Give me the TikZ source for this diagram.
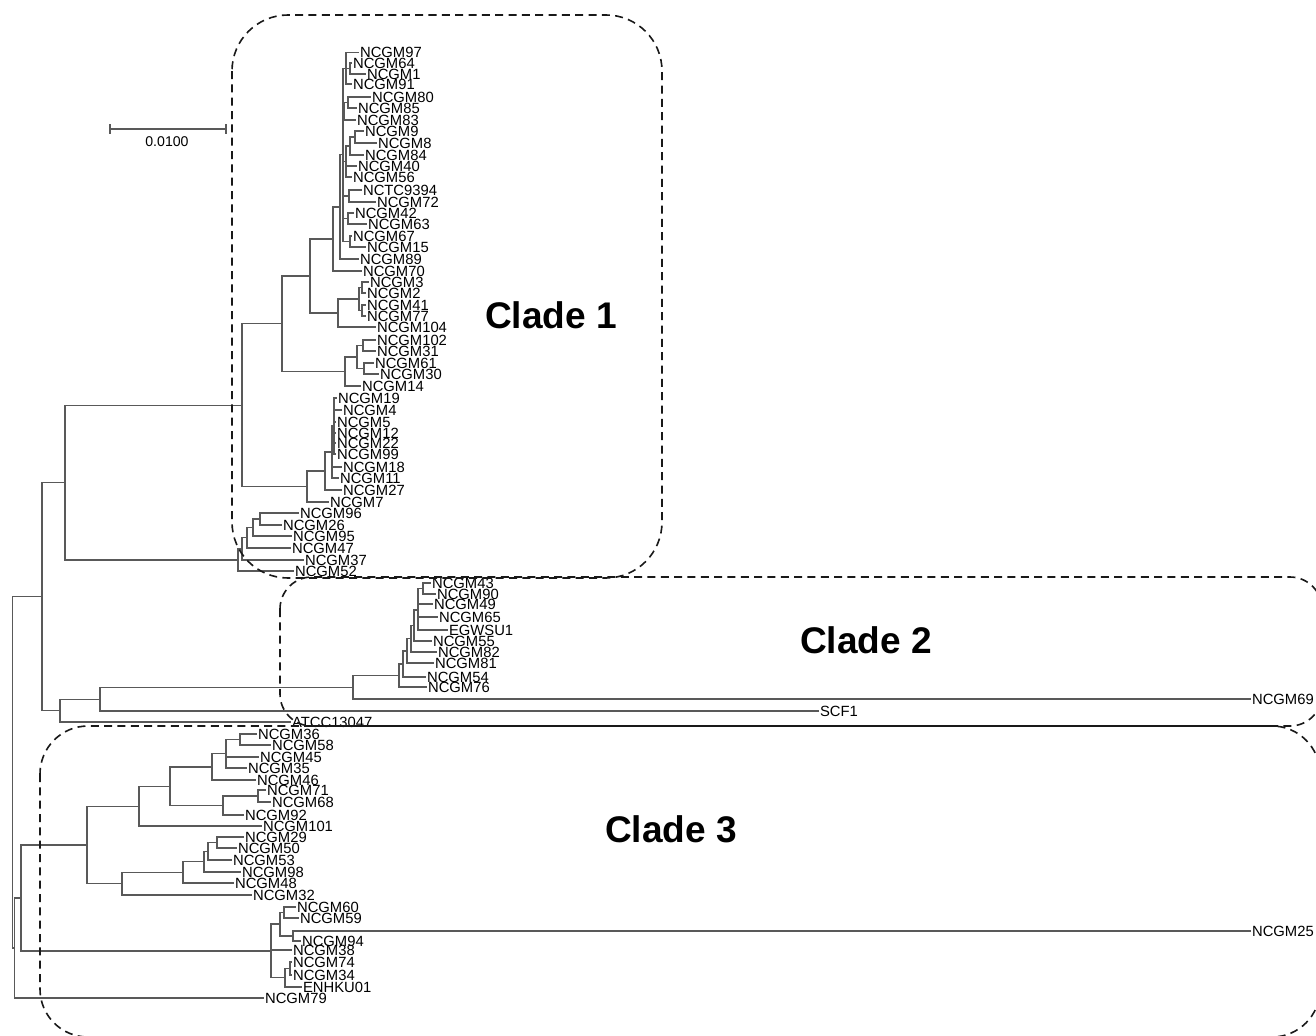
\documentclass[tikz,border=0pt]{standalone}
\usepackage{fontspec}
\setmainfont{Liberation Sans}
\newcommand\lf[3]{\node[lab] (#1) at (#2,#3) {#1};}
\newcommand\nd[3]{\coordinate (#1) at (#2,#3);}
\newcommand\kids[2]{\foreach \c in {#2}{\draw[br] (#1) |- (\c);}}
\begin{document}
\begin{tikzpicture}[x=0.75pt,y=-0.75pt,
  br/.style={draw=black!65,line width=0.9pt},
  lab/.style={anchor=west,inner xsep=0.8pt,inner ysep=0.5pt,outer sep=0pt,text=black,font=\fontsize{11.1pt}{11.5pt}\selectfont},
  cladebox/.style={draw=black!90,line width=1.2pt,dash pattern=on 6pt off 4pt},
  cladelab/.style={font=\fontsize{27.8pt}{28pt}\selectfont\bfseries,text=black,inner sep=0pt}]
\useasboundingbox (0,0) rectangle (1316,1035);
\clip (0,0) rectangle (1316,1035);

% ---------- internal nodes ----------
\nd{R}{12.5}{772.3}
\nd{U}{42}{596.5}
\nd{L}{14.5}{948}
\nd{M}{21}{898}
\nd{V}{65}{482.5}
\nd{W}{60}{710.6}
\nd{X}{100}{699.1}
\nd{Y}{353}{687.3}
\nd{C2}{399}{675.5}
\nd{C2a}{403}{664}
\nd{C2b}{407}{651}
\nd{C2c}{411}{638.8}
\nd{C2d}{414}{625.5}
\nd{C2e}{418}{610}
\nd{C2f}{423}{588.5}
\nd{G}{238}{559.9}
\nd{G1}{242}{548.9}
\nd{G2}{247}{537.8}
\nd{G3}{253}{527.5}
\nd{G4}{260}{519}
\nd{C1}{242}{405.1}
\nd{C1a}{282}{323.8}
\nd{C1b}{307}{486.5}
\nd{C1c}{325}{471}
\nd{C1d}{332}{452}
\nd{C1e}{334}{426}
\nd{C1f}{310}{276}
\nd{C1g}{345}{371.5}
\nd{C1h}{357}{357}
\nd{C1i}{363}{345.5}
\nd{C1j}{364}{368.5}
\nd{C1k}{333}{239}
\nd{C1l}{338}{313}
\nd{C1m}{359}{299}
\nd{C1p}{362}{287.5}
\nd{C1q}{362}{310.5}
\nd{C1n}{340}{206.9}
\nd{C1o}{343}{154.8}
\nd{T1}{346}{68.4}
\nd{T1a}{350}{68.5}
\nd{T2}{344}{111.3}
\nd{T2a}{348}{102.5}
\nd{T3}{346}{161.5}
\nd{T3a}{350}{146}
\nd{T3b}{355}{137}
\nd{T4}{349}{196}
\nd{T5}{348}{218.5}
\nd{T6}{350}{241.5}
\nd{C3a}{87}{844.9}
\nd{P}{139}{806.1}
\nd{P1}{170}{786.2}
\nd{P2}{212}{766.9}
\nd{P4}{226}{753.8}
\nd{P5}{240}{739.5}
\nd{P3}{223}{805.5}
\nd{P7}{258}{796}
\nd{Q}{122}{883.7}
\nd{Q1}{183}{872.4}
\nd{Q2}{204}{861.8}
\nd{Q4}{208}{851.5}
\nd{Q3}{217}{842.5}
\nd{C3b}{271}{951}
\nd{C3d}{280}{924}
\nd{C3c}{284}{912.5}
\nd{C3e}{293}{936}
\nd{C3f}{285}{977.8}
\nd{C3g}{290}{968.5}

% ---------- leaves ----------
\lf{NCGM97}{359}{52.7}
\lf{NCGM64}{352}{63}
\lf{NCGM1}{366}{74}
\lf{NCGM91}{352}{84}
\lf{NCGM80}{371}{97}
\lf{NCGM85}{357}{108}
\lf{NCGM83}{356}{120}
\lf{NCGM9}{364}{131}
\lf{NCGM8}{377}{143}
\lf{NCGM84}{364}{155}
\lf{NCGM40}{357}{166}
\lf{NCGM56}{352}{177}
\lf{NCTC9394}{362}{190}
\lf{NCGM72}{376}{202}
\lf{NCGM42}{354}{213}
\lf{NCGM63}{367}{224}
\lf{NCGM67}{352}{236}
\lf{NCGM15}{366}{247}
\lf{NCGM89}{359}{259}
\lf{NCGM70}{362}{271}
\lf{NCGM3}{369}{282}
\lf{NCGM2}{366}{293}
\lf{NCGM41}{366}{305}
\lf{NCGM77}{366}{316}
\lf{NCGM104}{376}{327}
\lf{NCGM102}{376}{340}
\lf{NCGM31}{376}{351}
\lf{NCGM61}{374}{363}
\lf{NCGM30}{379}{374}
\lf{NCGM14}{361}{386}
\lf{NCGM19}{337}{398}
\lf{NCGM4}{342}{410}
\lf{NCGM5}{336}{422}
\lf{NCGM12}{336}{433}
\lf{NCGM22}{336}{443}
\lf{NCGM99}{336}{454}
\lf{NCGM18}{342}{467}
\lf{NCGM11}{339}{478}
\lf{NCGM27}{342}{490}
\lf{NCGM7}{329}{502}
\lf{NCGM96}{299}{513}
\lf{NCGM26}{282}{525}
\lf{NCGM95}{292}{536}
\lf{NCGM47}{291}{548}
\lf{NCGM37}{304}{560}
\lf{NCGM52}{294}{571}
\lf{NCGM43}{431}{583}
\lf{NCGM90}{436}{594}
\lf{NCGM49}{433}{604}
\lf{NCGM65}{438}{617}
\lf{EGWSU1}{448}{630}
\lf{NCGM55}{432}{641}
\lf{NCGM82}{437}{652}
\lf{NCGM81}{434}{663}
\lf{NCGM54}{426}{677}
\lf{NCGM76}{427}{687}
\lf{NCGM69}{1251}{699}
\lf{SCF1}{819}{711}
\lf{ATCC13047}{291}{722}
\lf{NCGM36}{257}{734}
\lf{NCGM58}{271}{745}
\lf{NCGM45}{259}{757}
\lf{NCGM35}{247}{768}
\lf{NCGM46}{256}{780}
\lf{NCGM71}{266}{790}
\lf{NCGM68}{271}{802}
\lf{NCGM92}{244}{815}
\lf{NCGM101}{262}{826}
\lf{NCGM29}{244}{837}
\lf{NCGM50}{237}{848}
\lf{NCGM53}{232}{860}
\lf{NCGM98}{241}{872}
\lf{NCGM48}{234}{883}
\lf{NCGM32}{252}{895}
\lf{NCGM60}{296}{907}
\lf{NCGM59}{299}{918}
\lf{NCGM25}{1251}{931}
\lf{NCGM94}{301}{941}
\lf{NCGM38}{292}{950}
\lf{NCGM74}{292}{962}
\lf{NCGM34}{292}{975}
\lf{ENHKU01}{302}{987}
\lf{NCGM79}{264}{998}

% ---------- branches ----------
\kids{R}{U,L}
\kids{L}{M,NCGM79}
\kids{M}{C3a,C3b}
\kids{U}{V,W}
\kids{W}{X,ATCC13047}
\kids{X}{Y,SCF1}
\kids{Y}{C2,NCGM69}
\kids{C2}{C2a,NCGM76}
\kids{C2a}{C2b,NCGM54}
\kids{C2b}{C2c,NCGM81}
\kids{C2c}{C2d,NCGM82}
\kids{C2d}{C2e,NCGM55}
\kids{C2e}{C2f,NCGM49,NCGM65,EGWSU1}
\kids{C2f}{NCGM43,NCGM90}
\kids{V}{C1,G}
\kids{G}{G1,NCGM52}
\kids{G1}{G2,NCGM37}
\kids{G2}{G3,NCGM47}
\kids{G3}{G4,NCGM95}
\kids{G4}{NCGM96,NCGM26}
\kids{C1}{C1a,C1b}
\kids{C1b}{C1c,NCGM7}
\kids{C1c}{C1d,NCGM27}
\kids{C1d}{C1e,NCGM18,NCGM11}
\kids{C1e}{NCGM19,NCGM4,NCGM5,NCGM12,NCGM22,NCGM99}
\kids{C1a}{C1f,C1g}
\kids{C1g}{C1h,NCGM14}
\kids{C1h}{C1i,C1j}
\kids{C1i}{NCGM102,NCGM31}
\kids{C1j}{NCGM61,NCGM30}
\kids{C1f}{C1k,C1l}
\kids{C1l}{C1m,NCGM104}
\kids{C1m}{C1p,C1q}
\kids{C1p}{NCGM3,NCGM2}
\kids{C1q}{NCGM41,NCGM77}
\kids{C1k}{C1n,NCGM70}
\kids{C1n}{C1o,NCGM89}
\kids{C1o}{T1,T2,T3,T4,T5,T6}
\kids{T1}{NCGM97,T1a,NCGM91}
\kids{T1a}{NCGM64,NCGM1}
\kids{T2}{T2a,NCGM83}
\kids{T2a}{NCGM80,NCGM85}
\kids{T3}{T3a,NCGM40,NCGM56}
\kids{T3a}{T3b,NCGM84}
\kids{T3b}{NCGM9,NCGM8}
\kids{T4}{NCTC9394,NCGM72}
\kids{T5}{NCGM42,NCGM63}
\kids{T6}{NCGM67,NCGM15}
\kids{C3a}{P,Q}
\kids{P}{P1,NCGM101}
\kids{P1}{P2,P3}
\kids{P2}{P4,NCGM46}
\kids{P4}{P5,NCGM45,NCGM35}
\kids{P5}{NCGM36,NCGM58}
\kids{P3}{P7,NCGM92}
\kids{P7}{NCGM71,NCGM68}
\kids{Q}{Q1,NCGM32}
\kids{Q1}{Q2,NCGM48}
\kids{Q2}{Q4,NCGM98}
\kids{Q4}{Q3,NCGM53}
\kids{Q3}{NCGM29,NCGM50}
\kids{C3b}{C3d,NCGM38,C3f}
\kids{C3d}{C3c,C3e}
\kids{C3c}{NCGM60,NCGM59}
\kids{C3e}{NCGM25,NCGM94}
\kids{C3f}{C3g,ENHKU01}
\kids{C3g}{NCGM74,NCGM34}

% ---------- scale bar ----------
\coordinate (sbL) at (110,129);
\coordinate (sbR) at (226,129);
\draw[br] (sbL) -- (sbR);
\draw[br] ([yshift=3.5pt]sbL) -- ([yshift=-3.5pt]sbL);
\draw[br] ([yshift=3.5pt]sbR) -- ([yshift=-3.5pt]sbR);
\node[lab,anchor=center,font=\fontsize{10.6pt}{11pt}\selectfont] (sbt) at (167,142) {0.0100};

% ---------- clade boxes ----------
\draw[cladebox,rounded corners=42pt] (232,15) rectangle (662,578);
\draw[cladebox,rounded corners=24pt] (280,577) rectangle (1322,726);
\draw[cladebox,rounded corners=36pt] (40,726) rectangle (1320,1037);

\node[cladelab] (c1) at (551,315) {Clade 1};
\node[cladelab] (c2) at (866,640) {Clade 2};
\node[cladelab] (c3) at (671,829) {Clade 3};
\end{tikzpicture}
\end{document}
